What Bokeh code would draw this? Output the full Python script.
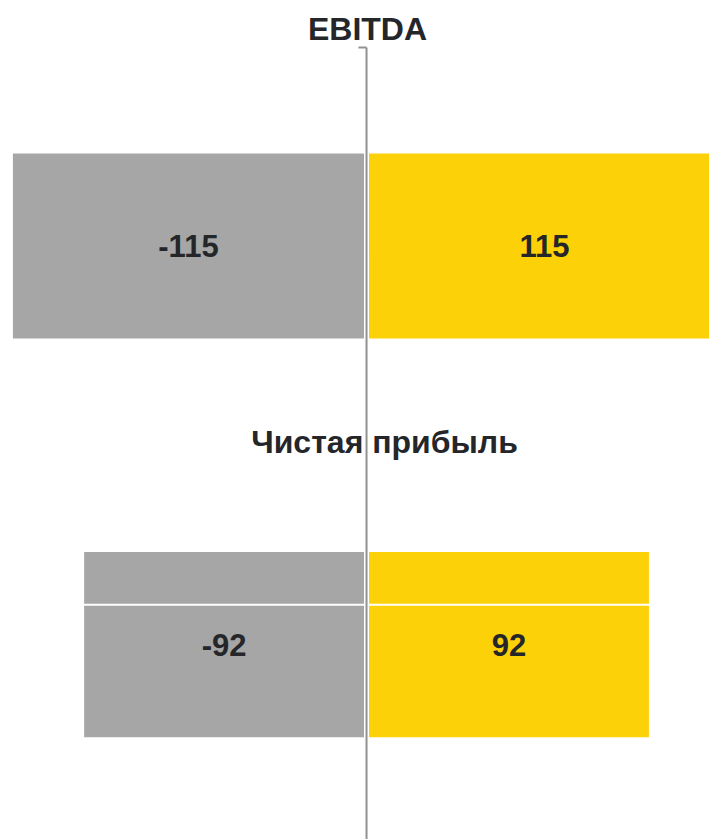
from bokeh.plotting import figure
from bokeh.models import Range1d, ColumnDataSource
from bokeh.core.properties import value
from bokeh.embed import file_html
from bokeh.resources import INLINE

categories = ["EBITDA", "Чистая прибыль"]
left_values = [-115, -92]
right_values = [115, 92]
cat_pos = [0, 1]

GRAY = "#a6a6a6"
YELLOW = "#fcd107"
TEXT = "#24262a"
AXIS = "#8f9193"
FONT = "Liberation Sans"

p = figure(width=711, height=839, output_backend="svg", toolbar_location=None,
           x_range=Range1d(-118.2, 111.4), y_range=Range1d(1.489, -0.616),
           min_border=0, min_border_left=0, min_border_right=0,
           min_border_top=0, min_border_bottom=0)
p.axis.visible = False
p.grid.visible = False
p.outline_line_color = None
p.background_fill_color = "white"

src = ColumnDataSource(dict(
    y=cat_pos, left=left_values, right=right_values,
    lmid=[v / 2 for v in left_values], rmid=[v / 2 for v in right_values],
    ltxt=[str(v) for v in left_values], rtxt=[str(v) for v in right_values],
    cat=categories, xoff=[1, 18], yoff=[-217, -203],
    zero=[0, 0],
))

p.hbar(y="y", left="left", right="zero", height=0.477, source=src,
       fill_color=GRAY, line_color="white", line_width=5)
p.hbar(y="y", left="zero", right="right", height=0.477, source=src,
       fill_color=YELLOW, line_color="white", line_width=5)

# thin white separator inside the second pair of bars
p.segment(x0=[left_values[1]], x1=[right_values[1]], y0=[cat_pos[1] - 0.1], y1=[cat_pos[1] - 0.1],
          line_color="white", line_width=2)

# central axis line with top tick
p.segment(x0=[0], x1=[0], y0=[-0.498], y1=[1.6], line_color=AXIS, line_width=2)
p.segment(x0=[-2.6], x1=[0], y0=[-0.498], y1=[-0.498], line_color=AXIS, line_width=2)

p.text(x="lmid", y="y", text="ltxt", source=src, text_font=value(FONT),
       text_font_style="bold", text_font_size="31px", text_color=TEXT,
       text_align="center", text_baseline="middle")
p.text(x="rmid", y="y", text="rtxt", source=src, text_font=value(FONT),
       text_font_style="bold", text_font_size="31px", text_color=TEXT,
       text_align="center", text_baseline="middle")
p.text(x="zero", y="y", text="cat", source=src, x_offset="xoff", y_offset="yoff",
       text_font=value(FONT), text_font_style="bold", text_font_size="32px",
       text_color=TEXT, text_align="center", text_baseline="middle")

open("out.html", "w").write(file_html(p, INLINE))
